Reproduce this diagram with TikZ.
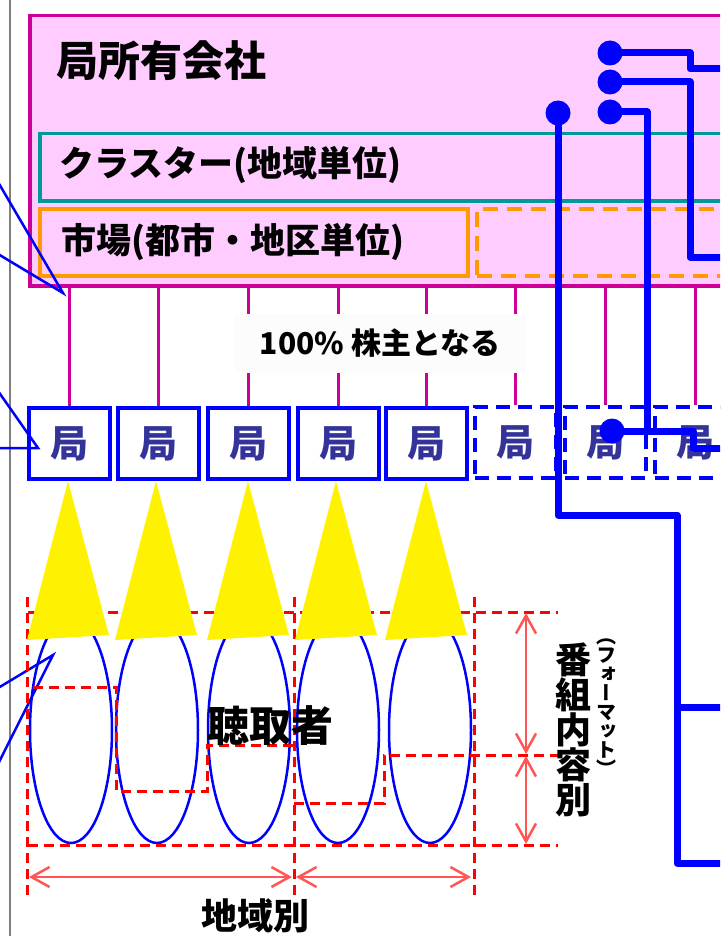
\documentclass[tikz,border=0pt]{standalone}
\usepackage{fontspec}
\setmainfont{Noto Sans CJK JP}
\newfontfamily\jpv{Noto Sans CJK JP}[RawFeature=+vert]
\usetikzlibrary{arrows.meta}
\definecolor{pinkf}{HTML}{FFCCFF}
\definecolor{magb}{HTML}{CC0099}
\definecolor{tealb}{HTML}{009999}
\definecolor{orangeb}{HTML}{FF9900}
\definecolor{kyokut}{HTML}{333399}
\definecolor{arrowred}{HTML}{FF5555}
\definecolor{grayl}{HTML}{808080}
\definecolor{labelbg}{HTML}{FCFCFC}
\newcommand\tightskip{\lineskiplimit=-100pt\relax\lineskip=0pt\relax}
\tikzset{
  fs/.style={font=\fontsize{#1}{#1}\selectfont\bfseries},
  txt/.style={inner sep=0pt, anchor=west},
  panel/.style={line width=3.5pt, anchor=north west, inner sep=0pt},
  magline/.style={magb, line width=3pt},
  kyokubox/.style={draw=blue, line width=4pt, minimum width=81pt, minimum height=71pt, inner sep=0pt, text=kyokut, fs=38},
  kyokudash/.style={kyokubox, dash pattern=on 14pt off 8pt},
  bus/.style={blue, line width=7pt, line join=round},
  busdot/.style={circle, fill=blue, minimum size=25pt, inner sep=0pt},
  wedge/.style={blue, line width=2.5pt, line join=miter},
  reddash/.style={red, line width=3pt, dash pattern=on 10pt off 6pt},
  dimarrow/.style={arrowred, line width=2.5pt, {Straight Barb[length=18pt,width=20pt]}-{Straight Barb[length=18pt,width=20pt]}},
  cone/.style={fill=yellow, draw=none},
  audience/.style={blue, line width=2.5pt}
}
\begin{document}
\begin{tikzpicture}[x=1pt, y=-1pt]
\useasboundingbox (0,0) rectangle (720,936);
\clip (0,0) rectangle (720,936);
% gray margin line
\coordinate (gtop) at (10,0);
\coordinate (gbot) at (10,936);
\draw[grayl, line width=2.5pt] (gtop) -- (gbot);

% company box and inner panels
\node[panel, draw=magb, fill=pinkf, minimum width=712pt, minimum height=270pt] (company) at (28,14) {};
\node[txt, fs=42] (companytext) at (56,61) {局所有会社};
\node[panel, draw=tealb, minimum width=702pt, minimum height=67pt] (cluster) at (38,132) {};
\node[txt, fs=35] (clustertext) at (59,165) {クラスター(地域単位)};
\node[panel, draw=orangeb, minimum width=428pt, minimum height=67pt] (market) at (38,207) {};
\node[txt, fs=35] (markettext) at (61,242) {市場(都市・地区単位)};
\node[panel, draw=orangeb, dash pattern=on 15pt off 9pt, minimum width=265pt, minimum height=67pt] (market2) at (475,207) {};

% stations
\node[kyokubox] (k1) at (69,443.5) {局};
\node[kyokubox] (k2) at (158,443.5) {局};
\node[kyokubox] (k3) at (248,443.5) {局};
\node[kyokubox] (k4) at (338,443.5) {局};
\node[kyokubox] (k5) at (426,443.5) {局};
\node[kyokudash] (k6) at (515,442.5) {局};
\node[kyokudash] (k7) at (605.5,442.5) {局};
\node[kyokudash] (k8) at (695,442.5) {局};

% ownership lines
\foreach \k in {k1,k2,k3,k4,k5,k6,k7,k8}{
  \draw[magline] (\k.north) -- (\k.north |- company.south);
}
\node[fill=labelbg, minimum width=290pt, minimum height=59pt, inner sep=0pt, fs=30] (share) at (380,343) {100\% 株主となる};

% callout wedges
\draw[wedge] (-2,182) -- (63,293) -- (-2,254);
\draw[wedge] (-2,391) -- (38,448) -- (-2,448);
\draw[wedge] (-2,688) -- (53,655) -- (-2,764);

% blue network lines
\node[busdot] (d1) at (610,53) {};
\node[busdot] (d2) at (610,82) {};
\node[busdot] (d3) at (610,112) {};
\node[busdot] (d4) at (558,113) {};
\node[busdot] (d5) at (612,431) {};
\coordinate (e1) at (730,69);
\coordinate (e2) at (730,257);
\coordinate (e3) at (730,448);
\coordinate (e4) at (730,707);
\coordinate (e5) at (730,863);
\coordinate (j1) at (677,707);
\draw[bus] (d1.center) -- (690,53) -- (690,69) -- (e1);
\draw[bus] (d2.center) -- (690,82) -- (690,257) -- (e2);
\draw[bus] (d3.center) -- (647,112) -- (647,431);
\draw[bus] (d5.center) -- (693,431) -- (693,448) -- (e3);
\draw[bus] (d4.center) -- (558,515) -- (677,515) -- (677,863) -- (e5);
\draw[bus] (j1) -- (e4);

% audiences
\foreach \cx in {71,157,249,338,430}{
  \draw[audience] (\cx,730) ellipse [x radius=41pt, y radius=113pt];
}

% red dashed grid
\draw[reddash] (27,597) -- (27,900);
\draw[reddash] (294,597) -- (294,900);
\draw[reddash] (474,597) -- (474,900);
\draw[reddash] (28,612) -- (558,612);
\draw[reddash] (28,845) -- (558,845);
\draw[reddash] (33,687) -- (116,687) -- (116,791) -- (207,791) -- (207,745) -- (294,745);
\draw[reddash] (294,803) -- (384,803) -- (384,755) -- (558,755);

% broadcast cones
\foreach \cx in {68,156,248,336,426}{
  \fill[cone] (\cx-41,640) -- (\cx,481) -- (\cx+41,635) -- cycle;
}

% dimension arrows
\coordinate (a1) at (29,877);
\coordinate (a2) at (292,877);
\coordinate (a3) at (296,877);
\coordinate (a4) at (471,877);
\coordinate (v1) at (526,613);
\coordinate (v2) at (526,754);
\coordinate (v3) at (526,756);
\coordinate (v4) at (526,844);
\draw[dimarrow] (a1) -- (a2);
\draw[dimarrow] (a3) -- (a4);
\draw[dimarrow] (v1) -- (v2);
\draw[dimarrow] (v3) -- (v4);

% labels
\node[inner sep=0pt, fs=42] (listener) at (270,726) {聴取者};
\node[inner sep=0pt, fs=36] (region) at (255,916) {地域別};
\node[inner sep=0pt, align=center, font=\fontsize{36}{35}\selectfont\tightskip\bfseries] (content) at (573,730) {番\\組\\内\\容\\別};
\node[inner sep=0pt, align=center, font=\jpv\fontsize{20}{19}\selectfont\tightskip\bfseries] (format) at (606,708) {（\\フ\\ォ\\ー\\マ\\ッ\\ト\\）};
\end{tikzpicture}
\end{document}
